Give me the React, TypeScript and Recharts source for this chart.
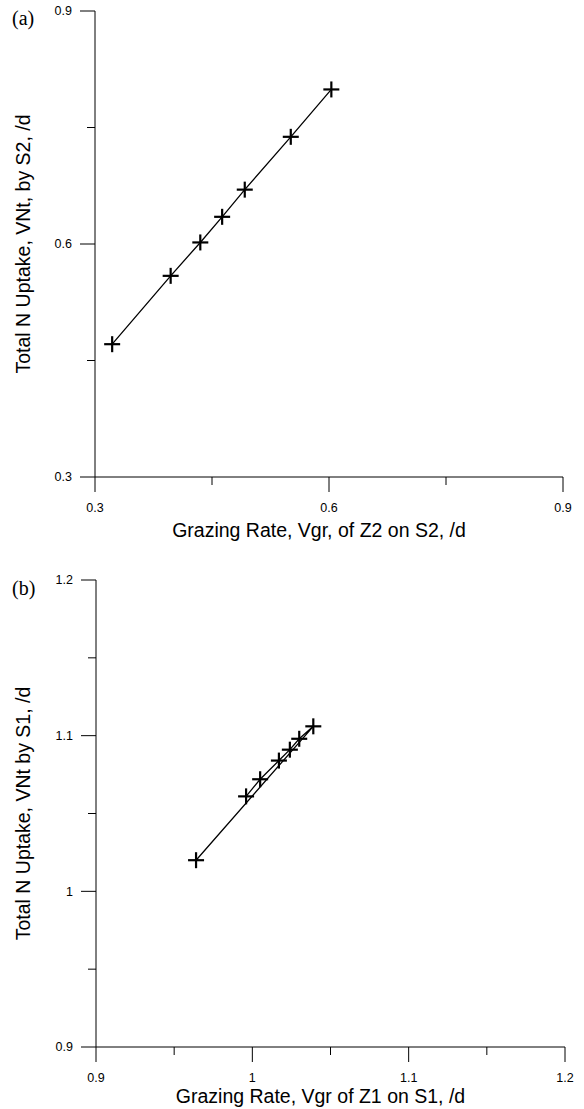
import React from 'react';
import { ScatterChart, Scatter, XAxis, YAxis } from 'recharts';

// Panel (a): grazing of Z2 on S2 vs total N uptake by S2
const grazingZ2 = [0.322, 0.397, 0.435, 0.463, 0.492, 0.551, 0.603];
const uptakeS2 = [0.471, 0.559, 0.602, 0.635, 0.67, 0.738, 0.799];

// Panel (b): grazing of Z1 on S1 vs total N uptake by S1 (in run order)
const grazingZ1 = [0.964, 1.039, 1.03, 1.024, 1.017, 1.005, 0.996];
const uptakeS1 = [1.02, 1.106, 1.098, 1.091, 1.084, 1.072, 1.061];

// Axis ticks: every tick is drawn, only the labelled ones get text
const ticksA = [0.3, 0.45, 0.6, 0.75, 0.9];
const labelsA = ['0.3', '0.6', '0.9'];
const ticksBx = [0.9, 0.95, 1.0, 1.05, 1.1, 1.15, 1.2];
const labelsBx = ['0.9', '1', '1.1', '1.2'];
const ticksBy = [0.9, 0.95, 1.0, 1.05, 1.1, 1.15, 1.2];
const labelsBy = ['0.9', '1', '1.1', '1.2'];

const FONT = '"Liberation Sans", Arial, sans-serif';

const dataA = grazingZ2.map((x, i) => ({ x, y: uptakeS2[i] }));
const dataB = grazingZ1.map((x, i) => ({ x, y: uptakeS1[i] }));

function findLabel(v: number, labels: string[]) {
  return labels.find((l) => Math.abs(parseFloat(l) - v) < 1e-9);
}

function XTick(props: any) {
  const { x, y, payload, labels } = props;
  const lbl = findLabel(payload.value, labels);
  const len = lbl ? 15 : 8;
  return (
    <g>
      <line x1={x} y1={y} x2={x} y2={y + len} stroke="#000" strokeWidth={1} />
      {lbl && (
        <text x={x} y={y + 35} textAnchor="middle" fontSize={12.5} fontFamily={FONT} fill="#000">
          {lbl}
        </text>
      )}
    </g>
  );
}

function YTick(props: any) {
  const { x, y, payload, labels } = props;
  const lbl = findLabel(payload.value, labels);
  const len = lbl ? 15 : 8;
  return (
    <g>
      <line x1={x - len} y1={y} x2={x} y2={y} stroke="#000" strokeWidth={1} />
      {lbl && (
        <text x={x - 23} y={y} dy="0.35em" textAnchor="end" fontSize={12.5} fontFamily={FONT} fill="#000">
          {lbl}
        </text>
      )}
    </g>
  );
}

function Plus(props: any) {
  const { cx, cy } = props;
  if (cx == null || cy == null) return null;
  const r = 8;
  return (
    <g stroke="#000" strokeWidth={2.2}>
      <line x1={cx - r} y1={cy} x2={cx + r} y2={cy} />
      <line x1={cx} y1={cy - r} x2={cx} y2={cy + r} />
    </g>
  );
}

function XTitle(props: any) {
  const vb = props.viewBox || {};
  return (
    <text
      x={vb.x + vb.width / 2 - 10}
      y={vb.y + props.dyTitle}
      textAnchor="middle"
      fontSize={19.5}
      fontFamily={FONT}
      fill="#000"
    >
      {props.text}
    </text>
  );
}

function YTitle(props: any) {
  const vb = props.viewBox || {};
  const cx = 23;
  const cy = vb.y + vb.height / 2;
  return (
    <text
      x={cx}
      y={cy}
      dy="0.35em"
      textAnchor="middle"
      fontSize={19.5}
      fontFamily={FONT}
      fill="#000"
      transform={`rotate(-90 ${cx} ${cy})`}
    >
      {props.text}
    </text>
  );
}

type PanelProps = {
  top: number;
  height: number;
  marginTop: number;
  marginRight: number;
  yWidth: number;
  xHeight: number;
  titleOffset: number;
  data: { x: number; y: number }[];
  xTicks: number[];
  xLabels: string[];
  yTicks: number[];
  yLabels: string[];
  xDomain: [number, number];
  yDomain: [number, number];
  xTitle: string;
  yTitle: string;
  tag: string;
  tagTop: number;
};

function Panel(p: PanelProps) {
  return (
    <div style={{ position: 'absolute', left: 0, top: p.top, width: 584, height: p.height }}>
      <ScatterChart
        width={584}
        height={p.height}
        margin={{ top: p.marginTop, right: p.marginRight, bottom: 0, left: 0 }}
      >
        <XAxis
          type="number"
          dataKey="x"
          domain={p.xDomain}
          ticks={p.xTicks}
          interval={0}
          allowDataOverflow
          height={p.xHeight}
          stroke="#000"
          axisLine={{ stroke: '#000', strokeWidth: 1 }}
          tickLine={false}
          tickSize={0}
          tickMargin={0}
          tick={(t: any) => <XTick {...t} labels={p.xLabels} />}
          label={{ content: (lp: any) => <XTitle {...lp} text={p.xTitle} dyTitle={p.titleOffset} /> }}
        />
        <YAxis
          type="number"
          dataKey="y"
          domain={p.yDomain}
          ticks={p.yTicks}
          interval={0}
          allowDataOverflow
          width={p.yWidth}
          stroke="#000"
          axisLine={{ stroke: '#000', strokeWidth: 1 }}
          tickLine={false}
          tickSize={0}
          tickMargin={0}
          tick={(t: any) => <YTick {...t} labels={p.yLabels} />}
          label={{ content: (lp: any) => <YTitle {...lp} text={p.yTitle} /> }}
        />
        <Scatter
          data={p.data}
          line={{ stroke: '#000', strokeWidth: 1.3 }}
          lineType="joint"
          shape={<Plus />}
          isAnimationActive={false}
        />
      </ScatterChart>
      <div
        style={{
          position: 'absolute',
          left: 12,
          top: p.tagTop,
          fontFamily: '"Liberation Serif", "Times New Roman", serif',
          fontSize: 20,
          lineHeight: '20px',
          color: '#000',
          whiteSpace: 'nowrap',
        }}
      >
        {p.tag}
      </div>
    </div>
  );
}

export default function App() {
  return (
    <div style={{ position: 'absolute', left: 0, top: 0, width: 584, height: 1109, background: '#fff' }}>
      <Panel
        top={0}
        height={545}
        marginTop={11}
        marginRight={21}
        yWidth={95}
        xHeight={68}
        titleOffset={60}
        data={dataA}
        xTicks={ticksA}
        xLabels={labelsA}
        yTicks={ticksA}
        yLabels={labelsA}
        xDomain={[0.3, 0.9]}
        yDomain={[0.3, 0.9]}
        xTitle="Grazing Rate, Vgr, of Z2 on S2, /d"
        yTitle="Total N Uptake, VNt, by S2, /d"
        tag="(a)"
        tagTop={8}
      />
      <Panel
        top={560}
        height={549}
        marginTop={20}
        marginRight={19}
        yWidth={96}
        xHeight={62}
        titleOffset={56}
        data={dataB}
        xTicks={ticksBx}
        xLabels={labelsBx}
        yTicks={ticksBy}
        yLabels={labelsBy}
        xDomain={[0.9, 1.2]}
        yDomain={[0.9, 1.2]}
        xTitle="Grazing Rate, Vgr of Z1 on S1, /d"
        yTitle="Total N Uptake, VNt by S1, /d"
        tag="(b)"
        tagTop={18}
      />
    </div>
  );
}
